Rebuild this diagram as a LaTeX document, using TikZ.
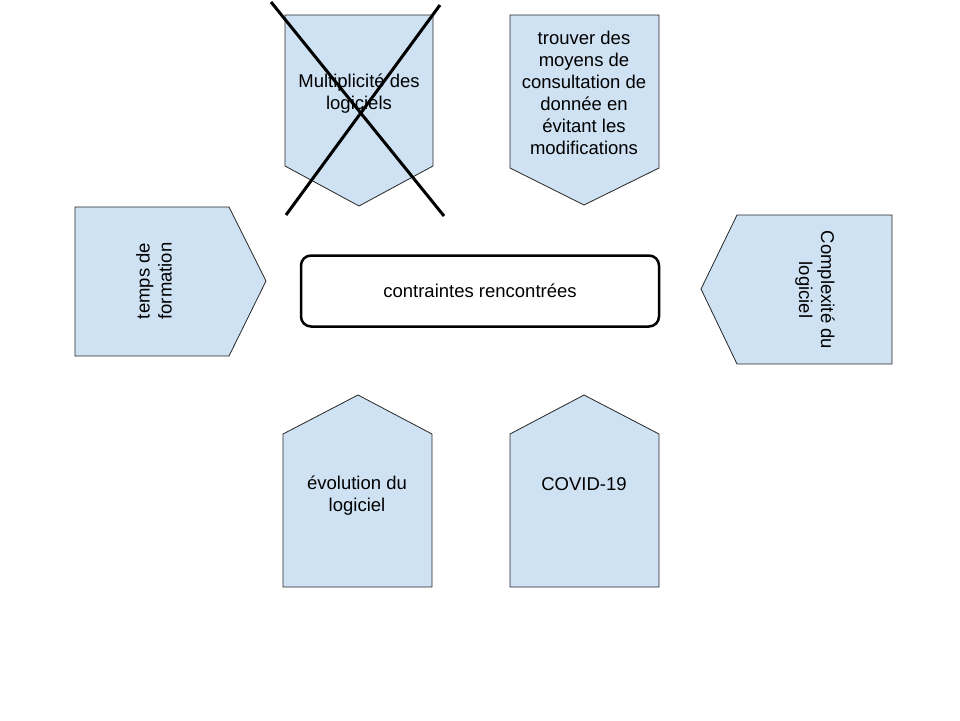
\documentclass[tikz,border=0pt]{standalone}
\usepackage{fontspec}
\setmainfont{Liberation Sans}
\usetikzlibrary{shapes}
\definecolor{paleblue}{HTML}{CFE2F3}

\begin{document}
\begin{tikzpicture}[x=1pt, y=-1pt,
    panel/.style={draw=black!85, fill=paleblue, line width=0.8pt},
    label/.style={align=center, inner sep=0pt,
                  font=\fontsize{18.5}{22}\selectfont}]
    \useasboundingbox (0,0) rectangle (960,720);
    % top row, pointing down
    \filldraw[panel] (285,15) -- (433,15) -- (433,166) -- (359,206)
                     -- (285,166) -- cycle;
    \node[label] (multi) at (359,94) {Multiplicité des\\logiciels};
    \filldraw[panel] (510,15) -- (659,15) -- (659,168) -- (584,205)
                     -- (510,168) -- cycle;
    \node[label] (moyens) at (584,93)
    {trouver des\\moyens de\\consultation de\\donnée en\\évitant les\\modifications};
    % crossed out
    \draw[line width=3pt] (271,2) -- (444,216);
    \draw[line width=3pt] (440,5) -- (286,215);
    % sides
    \filldraw[panel] (75,207) -- (229,207) -- (266,281) -- (229,356)
                     -- (75,356) -- cycle;
    \node[label, rotate=90] (temps) at (154,281) {temps de\\formation};
    \filldraw[panel] (892,215) -- (892,364) -- (737,364) -- (701,289)
                     -- (737,215) -- cycle;
    \node[label, rotate=-90] (complex) at (815,290) {Complexité du\\logiciel};
    % center
    \node[draw, rounded corners=10pt, line width=2.5pt,
          minimum width=358pt, minimum height=71pt, label] (contraintes)
          at (480,291) {contraintes rencontrées};
    % bottom row, pointing up
    \filldraw[panel] (283,587) -- (283,434) -- (358,395) -- (432,434)
                     -- (432,587) -- cycle;
    \node[label] (evol) at (357,496) {évolution du\\logiciel};
    \filldraw[panel] (510,587) -- (510,434) -- (584,395) -- (659,434)
                     -- (659,587) -- cycle;
    \node[label] (covid) at (584,484) {COVID-19};
\end{tikzpicture}
\end{document}
